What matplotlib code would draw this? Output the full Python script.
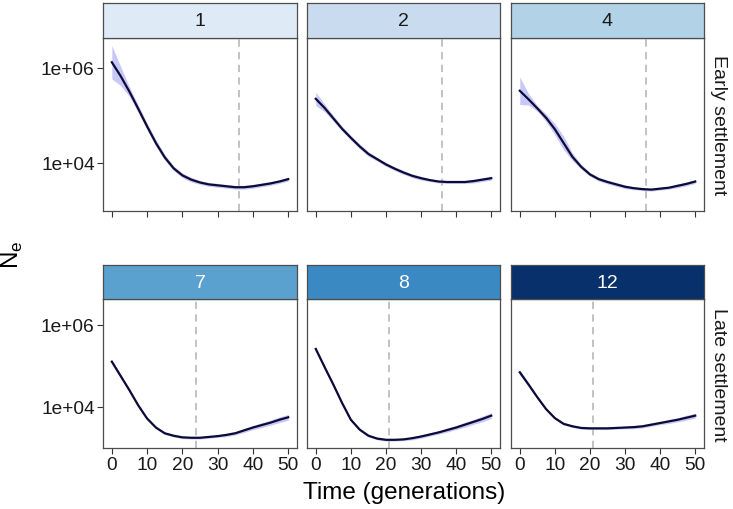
import numpy as np
import matplotlib.pyplot as plt

plt.rcParams['font.family'] = ['Liberation Sans', 'DejaVu Sans']

# time points (generations)
t = [0, 2.5, 5, 7.5, 10, 12.5, 15, 17.5, 20, 22.5, 25,
     27.5, 30, 32.5, 35, 37.5, 40, 42.5, 45, 47.5, 50]

# log10(Ne), one curve per panel
labels = ['1', '2', '4', '7', '8', '12']
log_ne = {
    '1':  [6.12, 5.83, 5.50, 5.14, 4.77, 4.42, 4.12, 3.89, 3.74, 3.65, 3.59,
           3.55, 3.53, 3.51, 3.49, 3.49, 3.51, 3.54, 3.57, 3.61, 3.66],
    '2':  [5.35, 5.16, 4.94, 4.72, 4.53, 4.35, 4.19, 4.08, 3.97, 3.88, 3.80,
           3.73, 3.68, 3.64, 3.61, 3.60, 3.60, 3.60, 3.62, 3.65, 3.68],
    '4':  [5.52, 5.34, 5.15, 4.95, 4.71, 4.42, 4.13, 3.92, 3.76, 3.66, 3.60,
           3.55, 3.50, 3.47, 3.45, 3.44, 3.46, 3.48, 3.52, 3.56, 3.61],
    '7':  [5.10, 4.75, 4.40, 4.03, 3.71, 3.49, 3.35, 3.29, 3.25, 3.24, 3.24,
           3.26, 3.28, 3.31, 3.35, 3.42, 3.49, 3.55, 3.61, 3.68, 3.74],
    '8':  [5.41, 4.97, 4.54, 4.09, 3.68, 3.44, 3.29, 3.22, 3.19, 3.19, 3.20,
           3.23, 3.27, 3.32, 3.37, 3.43, 3.49, 3.56, 3.63, 3.70, 3.78],
    '12': [4.84, 4.54, 4.23, 3.94, 3.72, 3.58, 3.52, 3.48, 3.47, 3.47, 3.47,
           3.48, 3.49, 3.50, 3.52, 3.56, 3.60, 3.64, 3.68, 3.73, 3.78],
}
# half-width of the ribbon (log10 units)
ribbon = {
    '1':  [0.35, 0.20, 0.10, 0.08, 0.07, 0.07, 0.06, 0.05, 0.05, 0.05, 0.04,
           0.04, 0.04, 0.04, 0.04, 0.04, 0.04, 0.04, 0.04, 0.04, 0.04],
    '2':  [0.14, 0.08, 0.06, 0.05, 0.05, 0.05, 0.05, 0.04, 0.04, 0.04, 0.04,
           0.04, 0.04, 0.03, 0.03, 0.03, 0.03, 0.03, 0.04, 0.04, 0.04],
    '4':  [0.29, 0.12, 0.06, 0.08, 0.12, 0.14, 0.08, 0.05, 0.04, 0.04, 0.04,
           0.04, 0.04, 0.03, 0.03, 0.03, 0.03, 0.03, 0.04, 0.04, 0.04],
    '7':  [0.05, 0.04, 0.04, 0.03, 0.03, 0.03, 0.03, 0.03, 0.03, 0.03, 0.03,
           0.03, 0.03, 0.04, 0.04, 0.05, 0.05, 0.06, 0.06, 0.07, 0.07],
    '8':  [0.05, 0.04, 0.04, 0.03, 0.03, 0.03, 0.03, 0.03, 0.03, 0.03, 0.03,
           0.04, 0.04, 0.04, 0.04, 0.05, 0.05, 0.06, 0.06, 0.07, 0.07],
    '12': [0.06, 0.05, 0.04, 0.03, 0.03, 0.03, 0.03, 0.03, 0.03, 0.03, 0.03,
           0.03, 0.03, 0.04, 0.04, 0.04, 0.04, 0.05, 0.05, 0.06, 0.06],
}
# settlement time marks (dashed lines)
settle = {'1': 36, '2': 36, '4': 36, '7': 24, '8': 21, '12': 21}

strip_fill = {'1': '#deebf7', '2': '#c9dcef', '4': '#b2d2e8',
              '7': '#5aa1cf', '8': '#3a89c3', '12': '#08306b'}
strip_text = {'1': '#1a1a1a', '2': '#1a1a1a', '4': '#1a1a1a',
              '7': 'white', '8': 'white', '12': 'white'}
row_names = ['Early settlement', 'Late settlement']

W, H = 733, 510
fig = plt.figure(figsize=(W / 100, H / 100), dpi=100)

def fx(px):
    return px / W

def fy(py):
    return 1 - py / H

col_x = [(103, 297), (307, 500), (511, 704)]
rows = [((39, 212), (4, 39)), ((300, 449), (266, 300))]
frame_col = '#4d4d4d'

for r, ((p0, p1), (s0, s1)) in enumerate(rows):
    for c, (x0, x1) in enumerate(col_x):
        lab = labels[r * 3 + c]
        ax = fig.add_axes([fx(x0), fy(p1), fx(x1 - x0), (p1 - p0) / H])
        mid = np.array(log_ne[lab])
        half = np.array(ribbon[lab])
        ax.fill_between(t, 10 ** (mid - half), 10 ** (mid + half),
                        color='#c8c8f8', lw=0, zorder=1)
        ax.axvline(settle[lab], color='#bdbdbd', ls=(0, (4, 3)), lw=1.3, zorder=2)
        ax.plot(t, 10 ** mid, color='#0c0b38', lw=1.6, zorder=3)
        ax.set_yscale('log')
        ax.set_ylim(10 ** 2.99, 10 ** 6.63)
        ax.set_xlim(-2.5, 52.5)
        ax.set_xticks([0, 10, 20, 30, 40, 50])
        ax.set_yticks([1e4, 1e6])
        ax.minorticks_off()
        ax.tick_params(length=4, width=0.8, color='#333333', labelsize=13.8,
                       labelcolor='#1a1a1a', pad=2)
        if c == 0:
            ax.set_yticklabels(['1e+04', '1e+06'])
        else:
            ax.tick_params(axis='y', left=False, labelleft=False)
        if r == 0:
            ax.tick_params(axis='x', labelbottom=False)
        for sp in ax.spines.values():
            sp.set_color(frame_col)
            sp.set_linewidth(0.9)

        # facet strip
        sx = fig.add_axes([fx(x0), fy(s1), fx(x1 - x0), (s1 - s0) / H])
        sx.set_facecolor(strip_fill[lab])
        sx.set_xticks([])
        sx.set_yticks([])
        for sp in sx.spines.values():
            sp.set_color(frame_col)
            sp.set_linewidth(0.9)
        sx.text(0.5, 0.5, lab, ha='center', va='center', fontsize=14,
                color=strip_text[lab], transform=sx.transAxes)

    fig.text(fx(718), fy((p0 + p1) / 2), row_names[r], rotation=-90,
             ha='center', va='center', fontsize=14, color='#1a1a1a')

fig.text(fx(12), fy(255), r'N$_\mathregular{e}$', rotation=90, ha='center',
         va='center', fontsize=17.5)
fig.text(fx(404), fy(493), 'Time (generations)', ha='center', va='center',
         fontsize=17.5)

plt.savefig('out.png', dpi=100)
